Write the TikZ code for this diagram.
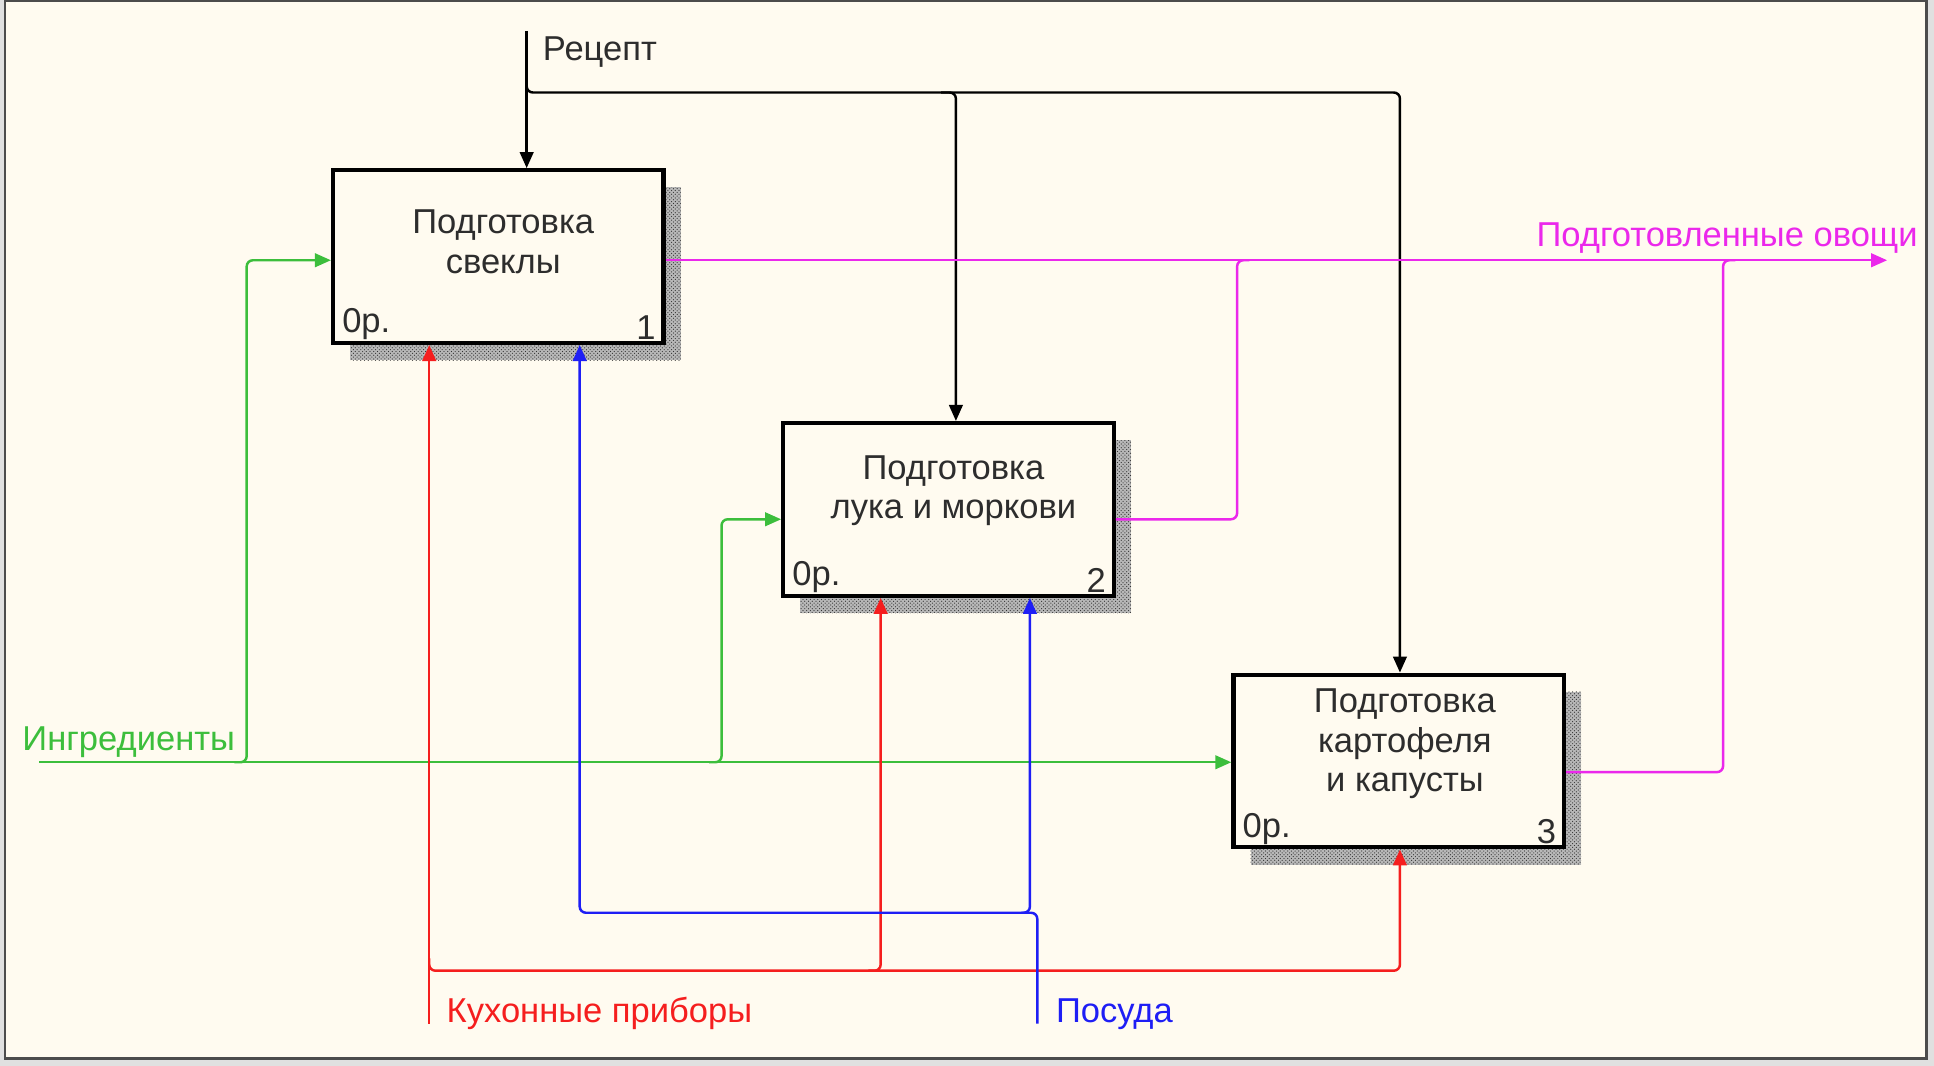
\documentclass[tikz,border=0pt]{standalone}
\usepackage{fontspec}
\setmainfont{Liberation Sans}
\usetikzlibrary{arrows.meta,patterns}
\definecolor{bgc}{RGB}{255,251,240}
\definecolor{mag}{RGB}{235,40,235}
\definecolor{grn}{RGB}{60,190,60}
\definecolor{rd}{RGB}{245,30,30}
\definecolor{bl}{RGB}{30,30,245}
\definecolor{txt}{RGB}{45,45,45}
\begin{document}
\begin{tikzpicture}[x=1pt,y=-1pt,
  func/.style={draw=black,line width=3.4pt,fill=bgc,minimum width=268pt,minimum height=140pt,inner sep=0pt},
  shadowbox/.style={fill=black!28,postaction={pattern=crosshatch dots,pattern color=black!80},minimum width=268pt,minimum height=140pt,inner sep=0pt},
  flow/.style={line width=2pt,rounded corners=5pt},
  arr/.style={-{Triangle[length=13pt,width=11pt]}},
  lbl/.style={font=\fontsize{28}{32}\selectfont,inner sep=0pt},
  boxtext/.style={lbl,align=center,text=txt},
  corner/.style={lbl,text=txt}]
\useasboundingbox (0,0) rectangle (1568,864);
\fill[black!12] (0,0) rectangle (1568,864);
\draw[fill=bgc,draw=black!70,line width=2pt] (4,1) rectangle (1562,858);

% shadows
\node[shadowbox] (s1) at (418,222) {};
\node[shadowbox] (s2) at (783,427) {};
\node[shadowbox] (s3) at (1148,631) {};
% boxes
\node[func] (b1) at (404,208) {};
\node[func] (b2) at (769,413) {};
\node[func] (b3) at (1134,617) {};
\node[boxtext] (t1) at (408,196) {Подготовка\\свеклы};
\node[boxtext] (t2) at (773,398) {Подготовка\\лука и моркови};
\node[boxtext] (t3) at (1139,603) {Подготовка\\картофеля\\и капусты};
\node[corner,anchor=south west] (o1) at ([shift={(9pt,4pt)}]b1.south west) {0р.};
\node[corner,anchor=south west] (o2) at ([shift={(9pt,4pt)}]b2.south west) {0р.};
\node[corner,anchor=south west] (o3) at ([shift={(9pt,4pt)}]b3.south west) {0р.};
\node[corner,anchor=south east] (n1) at ([shift={(-8pt,4pt)}]b1.south east) {1};
\node[corner,anchor=south east] (n2) at ([shift={(-8pt,4pt)}]b2.south east) {2};
\node[corner,anchor=south east] (n3) at ([shift={(-8pt,4pt)}]b3.south east) {3};

% level coordinates
\coordinate (y1) at (0,211);
\coordinate (y2) at (0,421);
\coordinate (y3i) at (0,618);
\coordinate (y3o) at (0,626);

% control: Рецепт
\coordinate (rec) at (427,25);
\coordinate (recS) at (427,62);
\coordinate (c2s) at (763,75);
\coordinate (c2) at (775,75);
\coordinate (c3) at (1135,75);
\draw[flow,arr] (rec) -- (rec |- b1.north);
\draw[flow,arr] (recS) |- (c3) -- (c3 |- b3.north);
\draw[flow,arr] (c2s) -| (c2 |- b2.north);
\node[lbl,anchor=west,text=txt] (lrec) at (440,42) {Рецепт};

% output
\coordinate (outEnd) at (1530,211);
\coordinate (m2) at (1003,211);
\coordinate (m2e) at (1013,211);
\coordinate (m3) at (1397,211);
\coordinate (m3e) at (1407,211);
\draw[flow,arr,mag] (b1.east |- y1) -- (outEnd);
\draw[flow,mag] (b2.east |- y2) -| (m2) -- (m2e);
\draw[flow,mag] (b3.east |- y3o) -| (m3) -- (m3e);
\node[lbl,anchor=east,text=mag] (lout) at (1555,193) {Подготовленные овощи};

% input
\coordinate (ing) at (32,618);
\coordinate (g1s) at (190,618);
\coordinate (g1) at (200,211);
\coordinate (g2s) at (575,618);
\coordinate (g2) at (585,421);
\draw[flow,arr,grn] (ing) -- (b3.west |- y3i);
\draw[flow,arr,grn] (g1s) -| (g1) -- (b1.west |- y1);
\draw[flow,arr,grn] (g2s) -| (g2) -- (b2.west |- y2);
\node[lbl,anchor=west,text=grn] (ling) at (18,602) {Ингредиенты};

% mechanism: Кухонные приборы
\coordinate (kit) at (348,830);
\coordinate (kitJ) at (348,777);
\coordinate (r3) at (1135,787);
\coordinate (r2s) at (704,787);
\coordinate (r2) at (714,787);
\draw[flow,arr,rd] (kit) -- (kit |- b1.south);
\draw[flow,arr,rd] (kitJ) |- (r3) -- (r3 |- b3.south);
\draw[flow,arr,rd] (r2s) -| (r2 |- b2.south);
\node[lbl,anchor=west,text=rd] (lkit) at (362,822) {Кухонные приборы};

% mechanism: Посуда
\coordinate (pos) at (841,830);
\coordinate (p1) at (470,740);
\coordinate (p2s) at (828,740);
\coordinate (p2) at (835,740);
\draw[flow,arr,bl] (pos) |- (p1) -- (p1 |- b1.south);
\draw[flow,arr,bl] (p2s) -| (p2 |- b2.south);
\node[lbl,anchor=west,text=bl] (lpos) at (856,822) {Посуда};
\end{tikzpicture}
\end{document}
